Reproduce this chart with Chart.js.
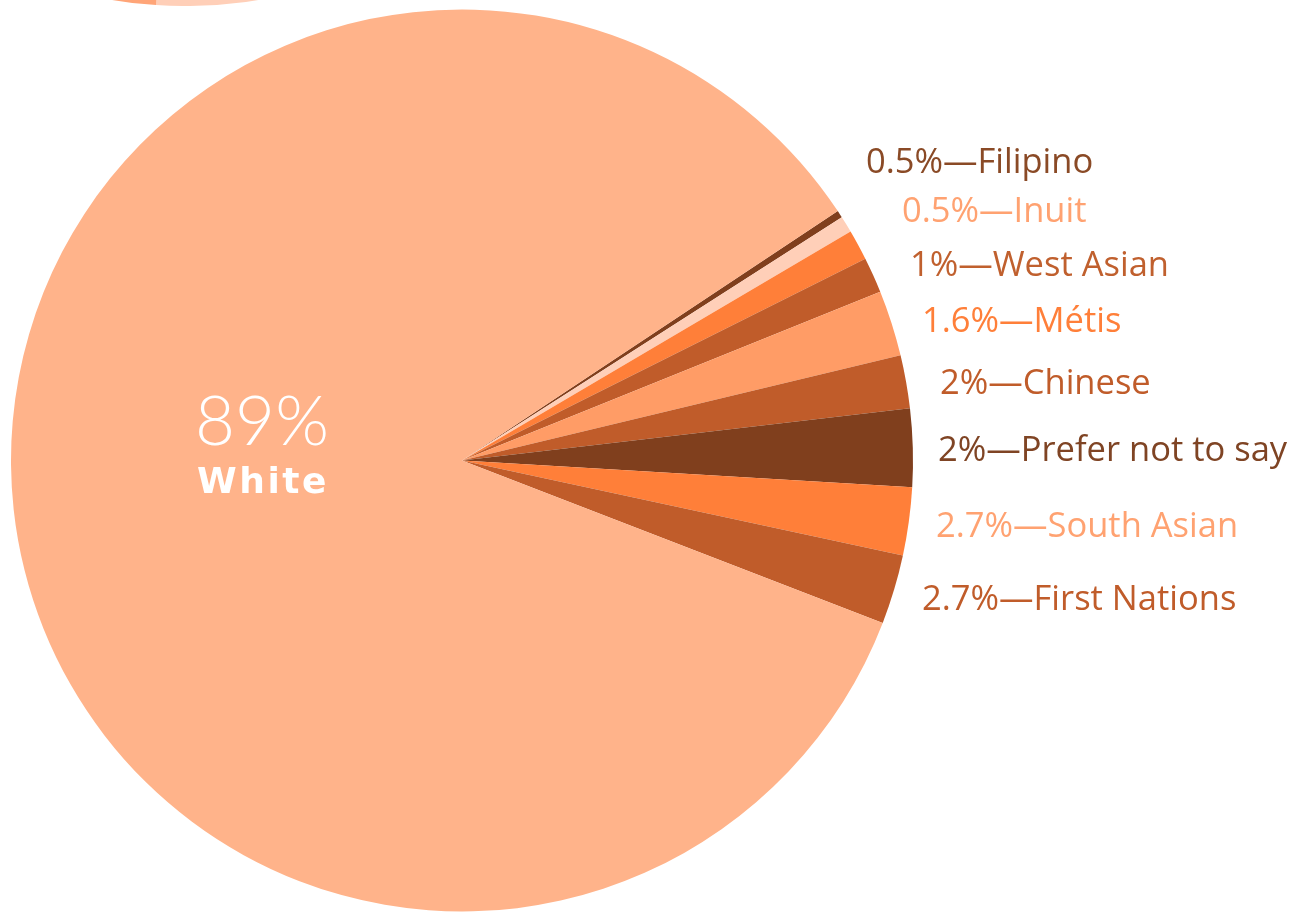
<!DOCTYPE html>
<html><head><meta charset="utf-8">
<script src="https://cdn.jsdelivr.net/npm/chart.js@4/dist/chart.umd.min.js"></script>
<style>
html,body{margin:0;padding:0;background:#fff;overflow:hidden;width:1306px;height:914px;}
#wrap{position:relative;width:1306px;height:914px;overflow:hidden;background:#fff;}
#main{position:absolute;left:0;top:0;}
#topbox{position:absolute;left:-265px;top:-896px;width:902px;height:902px;}
</style></head><body>
<div id="wrap">
<div id="topbox"><canvas id="topc" width="902" height="902"></canvas></div>
<canvas id="main" width="1306" height="914"></canvas>
</div>
<script>
// ---- data ----
const categories = ['Filipino', '', 'Inuit', 'West Asian', 'Métis', 'Chinese', 'Prefer not to say', 'South Asian', 'First Nations', 'White'];
const sliceValues = [0.26, 0.59, 1.09, 1.28, 2.36, 1.90, 2.79, 2.43, 2.49, 84.81];
const percentLabels = ['0.5%', '', '0.5%', '1%', '1.6%', '2%', '2%', '2.7%', '2.7%', '89%'];
// partially visible neighbouring pie at the top edge
const topCategories = ['pale slice', 'orange slice', 'rest'];
const topValues = [20, 15, 65];

// ---- styles ----
const sliceColors = ['#803F1D', '#FFCFB8', '#FF7F39', '#C05C2A', '#FF9C66', '#C05C2A', '#803F1D', '#FF7F39', '#C05C2A', '#FFB38A'];
const labelColors = ['#8A4A26', null, '#FFA271', '#C0602E', '#FF7F39', '#C05C2A', '#7F4424', '#FFA271', '#C05C2A', '#FFFFFF'];
// label anchor offsets (left x, baseline y) from pie centre
const labelOffsets = [[404, -287.5], null, [440, -238.5], [448, -184.5], [460, -128.5], [478, -66.5], [476, 0.5], [474, 76.5], [460, 149.5]];

const labelPlugin = {
  id: 'sliceLabels',
  afterDatasetsDraw(chart) {
    const ctx = chart.ctx;
    const arc = chart.getDatasetMeta(0).data[0];
    const cx = arc.x, cy = arc.y;
    ctx.save();
    ctx.textBaseline = 'alphabetic';
    ctx.textAlign = 'left';
    ctx.font = '400 34.5px "Open Sans", Lato, sans-serif';
    for (let i = 0; i < categories.length - 1; i++) {
      if (!categories[i] || !labelOffsets[i]) continue;
      ctx.fillStyle = labelColors[i];
      ctx.fillText(percentLabels[i] + '\u2014' + categories[i], cx + labelOffsets[i][0], cy + labelOffsets[i][1]);
    }
    // big slice label
    const last = categories.length - 1;
    ctx.fillStyle = labelColors[last];
    ctx.textAlign = 'center';
    ctx.font = '300 69px Lato, sans-serif';
    ctx.fillText(percentLabels[last], cx - 200, cy - 15.5);
    ctx.font = '700 36px "DejaVu Sans", sans-serif';
    ctx.letterSpacing = '2.5px';
    ctx.fillText(categories[last], cx - 199, cy + 32);
    ctx.restore();
  }
};

new Chart(document.getElementById('main'), {
  type: 'pie',
  data: {
    labels: categories,
    datasets: [{
      data: sliceValues,
      backgroundColor: sliceColors,
      borderWidth: 0,
      hoverOffset: 0,
      offset: 0
    }]
  },
  options: {
    responsive: false,
    animation: false,
    events: [],
    rotation: 56.43,
    layout: { padding: { left: 11, right: 393, top: 9.5, bottom: 2.5 } },
    plugins: { legend: { display: false }, tooltip: { enabled: false } }
  },
  plugins: [labelPlugin]
});

new Chart(document.getElementById('topc'), {
  type: 'pie',
  data: {
    labels: topCategories,
    datasets: [{
      data: topValues,
      backgroundColor: ['#FFCFB8', '#FFA578', '#FFB38A'],
      borderWidth: 0,
      hoverOffset: 0
    }]
  },
  options: {
    responsive: false,
    animation: false,
    events: [],
    rotation: 111.8,
    plugins: { legend: { display: false }, tooltip: { enabled: false } }
  }
});
</script>
</body></html>
